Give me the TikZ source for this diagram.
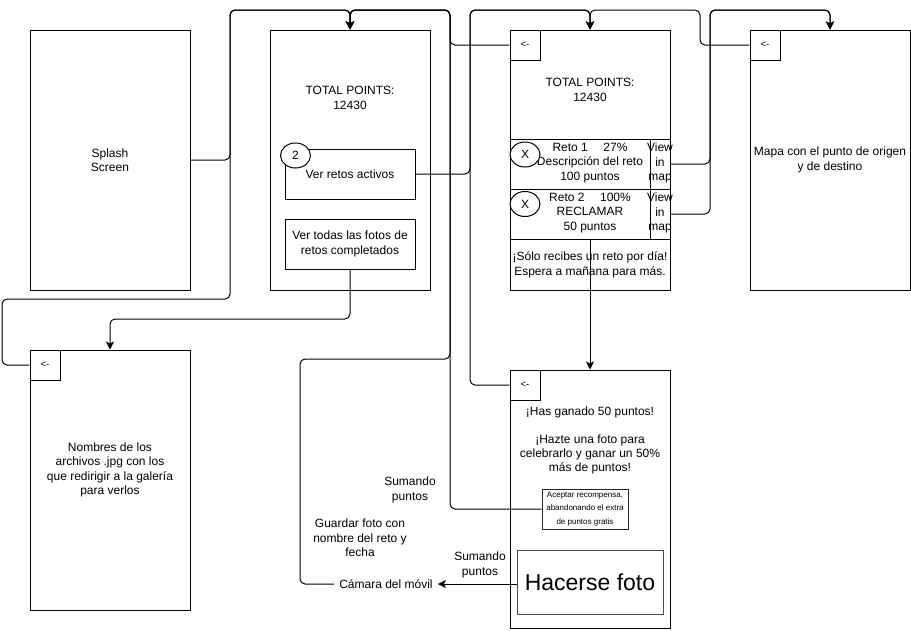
\documentclass[tikz,border=0pt]{standalone}
\usepackage{fontspec}
\setmainfont{Liberation Sans}
\usetikzlibrary{arrows.meta,shapes.geometric}
\begin{document}
\begin{tikzpicture}[x=1pt,y=-1pt,
  every node/.style={font=\fontsize{12}{14.5}\selectfont, align=center, inner sep=0pt},
  frame/.style={draw, line width=1pt, minimum width=160pt, minimum height=260pt},
  backbtn/.style={draw, line width=1pt, minimum size=30pt, font=\fontsize{9.5}{10}\selectfont},
  btn/.style={draw, line width=1pt, minimum width=130pt, minimum height=50pt},
  rowbox/.style={draw, line width=1pt, minimum width=160pt, minimum height=50pt},
  viewcol/.style={draw, line width=1pt, minimum width=20pt, minimum height=50pt},
  badge/.style={draw, fill=white, ellipse, line width=1pt, minimum width=30pt, minimum height=25pt},
  link/.style={line width=1pt, rounded corners=5pt},
  tip/.style={-{Stealth[length=8pt,width=8pt,inset=2pt]}},
]
\useasboundingbox (0,0) rectangle (911,630);

% ---- screens ----
\node[frame] (splash) at (110,160) {Splash\\Screen};

\node[frame] (home) at (350,160) {};
\node (homepts) at (350,98) {TOTAL POINTS:\\12430};
\node[btn] (btnActive) at (350,174) {Ver retos activos};
\node[badge] (badge) at (295.5,155.5) {2};
\node[btn] (btnPhotos) at (350,244) {Ver todas las fotos de\\retos completados};

\node[frame] (retos) at (590,160) {};
\node[backbtn] (back3) at (525,45) {<-};
\node (retospts) at (590,90) {TOTAL POINTS:\\12430};
\node[rowbox] (row1) at (590,164) {};
\node (row1txt) at (590,163) {Reto 1\hspace{1.3em}27\%\\Descripción del reto\\100 puntos};
\node[viewcol] (view1) at (660,164) {};
\node (view1txt) at (660,163) {View\\in\\map};
\node[badge] (x1) at (525,154.5) {X};
\node[rowbox] (row2) at (590,214) {};
\node (row2txt) at (590,213) {Reto 2\hspace{1.3em}100\%\\RECLAMAR\\50 puntos};
\node[viewcol] (view2) at (660,214) {};
\node (view2txt) at (660,213) {View\\in\\map};
\node[badge] (x2) at (525,204) {X};
\node (limit) at (590,265) {¡Sólo recibes un reto por día!\\Espera a mañana para más.};

\node[frame] (map) at (830,160) {Mapa con el punto de origen\\y de destino};
\node[backbtn] (mapback) at (765,45) {<-};

\node[frame] (gallery) at (110,480) {};
\node[backbtn] (galback) at (45,365) {<-};
\node (galtxt) at (110,470) {Nombres de los\\archivos .jpg con los\\que redirigir a la galería\\para verlos};

\node[frame, minimum height=258pt] (reward) at (590,499) {};
\node[backbtn] (rewback) at (525,385) {<-};
\node[font=\fontsize{12}{14}\selectfont] (rewtxt) at (590,440)
  {¡Has ganado 50 puntos!\\[14pt]¡Hazte una foto para\\celebrarlo y ganar un 50\%\\más de puntos!};
\node[draw=black!85, line width=1pt, minimum width=86pt, minimum height=40pt,
      font=\fontsize{8}{13.5}\selectfont] (accept) at (585,509)
  {Aceptar recompensa,\\abandonando el extra\\de puntos gratis};
\node[draw=black!70, line width=1pt, minimum width=146pt, minimum height=64pt,
      font=\fontsize{23}{26}\selectfont] (photo) at (590,582) {Hacerse foto};

\node[inner xsep=5pt, inner ysep=2pt] (cam) at (386,584) {Cámara del móvil};

% ---- connectors ----
\draw[link,tip] (splash.east) -- (230,160) -- (230,10) -| (home.north);
\draw[link,tip] (galback.west) -- (2,365) -- (2,299) -- (230,299) -- (230,10) -| (home.north);
\draw[link,tip] (back3.west) -- (450,45) -- (450,10) -| (home.north);
\draw[link,tip] (accept.west) -- (450,509) -- (450,10) -| (home.north);
\draw[link,tip] (cam.west) -- (300,584) -- (300,359) -- (450,359) -- (450,10) -| (home.north);

\draw[link,tip] (btnActive.east) -- (470,174) -- (470,10) -| (retos.north);
\draw[link,tip] (mapback.west) -- (700,45) -- (700,10) -| (retos.north);
\draw[link,tip] (rewback.west) -- (470,385) -- (470,10) -| (retos.north);

\draw[link,tip] (view1.east) -- (710,164) -- (710,10) -| (map.north);
\draw[link,tip] (view2.east) -- (710,214) -- (710,10) -| (map.north);

\draw[link,tip] (btnPhotos.south) -- (350,319) -| (gallery.north);
\draw[link,tip] (row2.south) -- (reward.north);
\draw[link,tip] (photo.west |- cam.east) -- (cam.east);

% ---- connector labels ----
\node (lblAccept) at (410,490) {Sumando\\puntos};
\node (lblSave) at (360,538) {Guardar foto con\\nombre del reto y\\fecha};
\node (lblPhoto) at (480,565) {Sumando\\puntos};
\end{tikzpicture}
\end{document}
